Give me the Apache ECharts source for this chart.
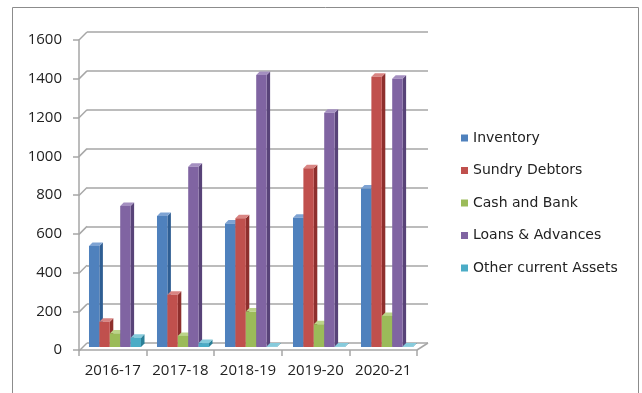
<!DOCTYPE html>
<html>
<head>
<meta charset="utf-8">
<script src="https://cdn.jsdelivr.net/npm/echarts@6/dist/echarts.min.js"></script>
<style>
  html, body { margin: 0; padding: 0; background: #fff; }
  #chart { width: 642px; height: 393px; }
</style>
</head>
<body>
<div id="chart"></div>
<script>
// Current assets by year
const years = ['2016-17', '2017-18', '2018-19', '2019-20', '2020-21'];
const inventory = [520, 674, 636, 665, 816];
const sundryDebtors = [130, 269, 662, 919, 1390];
const cashAndBank = [70, 57, 182, 117, 160];
const loansAdvances = [725, 927, 1400, 1205, 1380];
const otherCurrentAssets = [48, 20, 2, 2, 2];
const yTicks = [0, 200, 400, 600, 800, 1000, 1200, 1400, 1600];

const seriesDefs = [
  { name: 'Inventory', data: inventory, front: '#4f81bd', side: '#2f5e93', top: '#7ea3d3' },
  { name: 'Sundry Debtors', data: sundryDebtors, front: '#c0504d', side: '#8e2f2d', top: '#d98583' },
  { name: 'Cash and Bank', data: cashAndBank, front: '#9bbb59', side: '#6f8b37', top: '#bcd489' },
  { name: 'Loans & Advances', data: loansAdvances, front: '#8064a2', side: '#584378', top: '#a48fc0' },
  { name: 'Other current Assets', data: otherCurrentAssets, front: '#4bacc6', side: '#2a7f97', top: '#86cbdc' }
];

const AXIS_FONT = 'Open Sans';
const LEGEND_FONT = 'DejaVu Sans';
const DEPTH = 3.5;       // 3D extrusion in px
const GROUP = 0.765;     // share of a category band taken by the bar cluster
const LINE = '#a6a6a6';

function bar3D(idx, def) {
  return function (params, api) {
    const cat = api.value(0);
    const v = api.value(1);
    const base = api.coord([cat, 0]);
    const tp = api.coord([cat, v]);
    const band = api.size([1, 0])[0];
    const gw = band * GROUP;
    const w = gw / seriesDefs.length;
    const x0 = base[0] - gw / 2 + idx * w;
    const x1 = x0 + w;
    const yb = base[1];
    const yt = tp[1];
    const d = DEPTH;
    return {
      type: 'group',
      children: [
        { type: 'polygon', shape: { points: [[x1, yt], [x1 + d, yt - d], [x1 + d, yb - d], [x1, yb]] },
          style: { fill: def.side } },
        { type: 'polygon', shape: { points: [[x0, yt], [x0 + d, yt - d], [x1 + d, yt - d], [x1, yt]] },
          style: { fill: def.top } },
        { type: 'rect', shape: { x: x0, y: yt, width: w, height: yb - yt },
          style: { fill: def.front } }
      ]
    };
  };
}

// diagonal joints between the front axis and the back wall (left edge)
function wallJoint(params, api) {
  const p = api.coord([0, api.value(1)]);
  const x = p[0] - api.size([1, 0])[0] / 2;
  return {
    type: 'line',
    shape: { x1: x - 8, y1: p[1] + 8, x2: x, y2: p[1] },
    style: { stroke: LINE, lineWidth: 1.5 }
  };
}
// floor edge on the right side
function floorJoint(params, api) {
  const p = api.coord([years.length - 1, 0]);
  const x = p[0] + api.size([1, 0])[0] / 2;
  return {
    type: 'line',
    shape: { x1: x - 11, y1: p[1] + 7, x2: x, y2: p[1] },
    style: { stroke: LINE, lineWidth: 1.5 }
  };
}

const chart = echarts.init(document.getElementById('chart'), null, { renderer: 'canvas' });

const option = {
  animation: false,
  backgroundColor: '#fff',
  color: seriesDefs.map(s => s.front),
  textStyle: { fontFamily: AXIS_FONT, color: '#222' },
  grid: [
    { left: 79, right: 225, top: 40, bottom: 43 },   // front axes
    { left: 87, right: 214, top: 32, bottom: 50 },   // back wall
    { left: 81, right: 221, top: 36, bottom: 46 }    // columns
  ],
  xAxis: [
    { gridIndex: 0, type: 'category', data: years,
      axisLine: { lineStyle: { color: LINE, width: 1.5 } },
      axisTick: { show: true, length: 6, lineStyle: { color: LINE, width: 1.5 } },
      axisLabel: { interval: 0, fontSize: 15, color: '#222', margin: 13, fontFamily: AXIS_FONT } },
    { gridIndex: 1, type: 'category', data: years, show: false },
    { gridIndex: 2, type: 'category', data: years, show: false }
  ],
  yAxis: [
    { gridIndex: 0, type: 'value', min: 0, max: 1600, interval: 200,
      axisLine: { show: true, lineStyle: { color: LINE, width: 1.5 } },
      axisTick: { show: true, length: 6, lineStyle: { color: LINE, width: 1.5 } },
      splitLine: { show: false },
      axisLabel: { fontSize: 15, color: '#222', margin: 17, fontFamily: AXIS_FONT,
        formatter: v => String(v) } },
    { gridIndex: 1, type: 'value', min: 0, max: 1600, interval: 200,
      axisLine: { show: false }, axisTick: { show: false }, axisLabel: { show: false },
      splitLine: { show: true, lineStyle: { color: LINE, width: 1.5 } } },
    { gridIndex: 2, type: 'value', min: 0, max: 1600, interval: 200, show: false,
      splitLine: { show: false } }
  ],
  legend: {
    orient: 'vertical',
    left: 456,
    top: 126,
    itemWidth: 7,
    itemHeight: 7,
    itemGap: 18.5,
    icon: 'rect',
    textStyle: { fontSize: 14, color: '#222', fontFamily: LEGEND_FONT },
    data: seriesDefs.map(s => s.name)
  },
  graphic: [
    { type: 'rect', shape: { x: 12.5, y: 7.5, width: 626, height: 420 },
      style: { fill: 'none', stroke: '#8c8c8c', lineWidth: 1 }, silent: true }
  ],
  series: [
    { type: 'custom', name: 'joints', xAxisIndex: 1, yAxisIndex: 1, silent: true,
      renderItem: wallJoint, data: yTicks.map(t => [0, t]), encode: { x: 0, y: 1 }, z: 1 },
    { type: 'custom', name: 'floor', xAxisIndex: 1, yAxisIndex: 1, silent: true,
      renderItem: floorJoint, data: [[years.length - 1, 0]], encode: { x: 0, y: 1 }, z: 1 }
  ].concat(seriesDefs.map((def, i) => ({
    type: 'custom',
    name: def.name,
    xAxisIndex: 2,
    yAxisIndex: 2,
    itemStyle: { color: def.front },
    renderItem: bar3D(i, def),
    encode: { x: 0, y: 1 },
    data: def.data.map((v, k) => [k, v]),
    z: 3
  })))
};

chart.setOption(option);
</script>
</body>
</html>
